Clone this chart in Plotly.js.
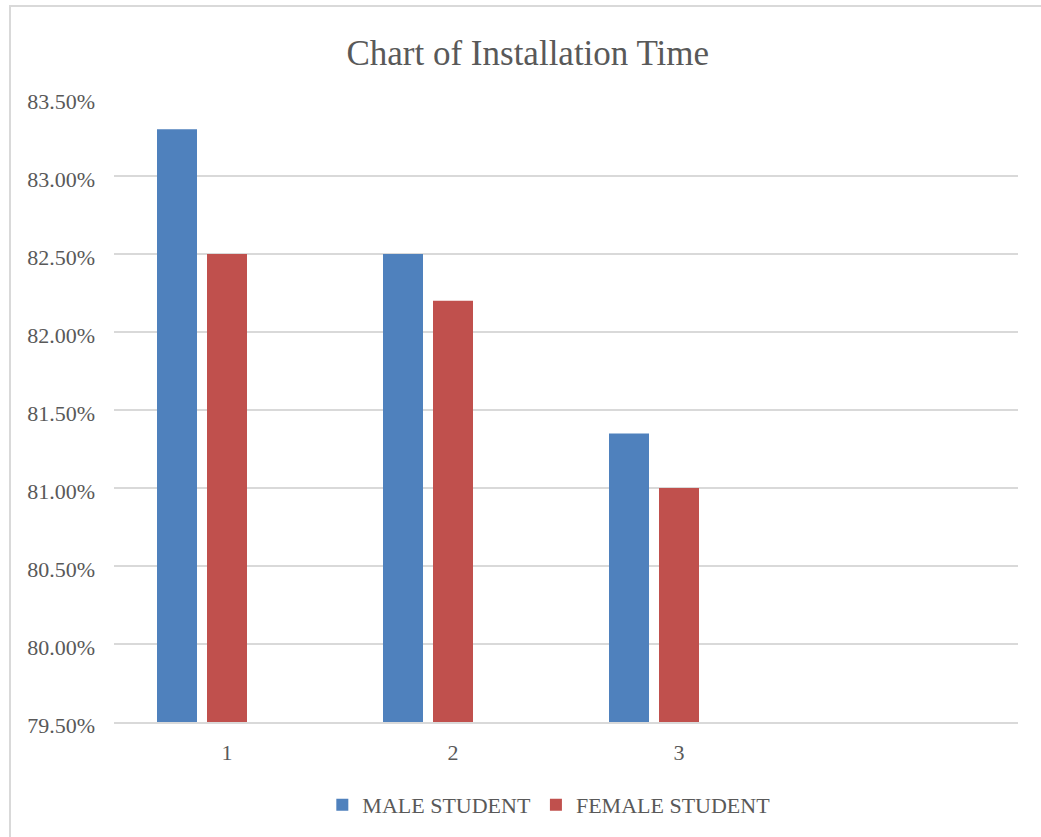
<!DOCTYPE html>
<html>
<head>
<meta charset="utf-8">
<script src="https://cdn.plot.ly/plotly-3.0.1.min.js"></script>
<style>
  html, body { margin: 0; padding: 0; background: #ffffff; overflow: hidden; }
  #chart { position: absolute; left: 0; top: 0; width: 1041px; height: 837px; }
  #frame { position: absolute; left: 9px; top: 5px; width: 1200px; height: 1000px;
           border: 2px solid #d9d9d9; pointer-events: none; box-sizing: border-box; }
</style>
</head>
<body>
<div id="chart"></div>
<div id="frame"></div>
<script>
// Data
const categories = [1, 2, 3];
const categoryLabels = ["1", "2", "3"];
const maleStudent = [83.30, 82.50, 81.35];
const femaleStudent = [82.50, 82.20, 81.00];
const seriesNames = ["MALE STUDENT", "FEMALE STUDENT"];
const yTicks = [79.5, 80.0, 80.5, 81.0, 81.5, 82.0, 82.5, 83.0, 83.5];
const yTickLabels = yTicks.map(v => v.toFixed(2) + "%");

const font = "Liberation Serif, Times New Roman, serif";
const textColor = "#595959";
const barWidth = 40 / 226;

const traces = [
  {
    type: "bar", name: seriesNames[0], x: categories, y: maleStudent,
    width: barWidth, offset: -70 / 226,
    marker: { color: "#4f81bd" }, hoverinfo: "x+y"
  },
  {
    type: "bar", name: seriesNames[1], x: categories, y: femaleStudent,
    width: barWidth, offset: -20 / 226,
    marker: { color: "#c0504d" }, hoverinfo: "x+y"
  }
];

const layout = {
  width: 1041, height: 837,
  paper_bgcolor: "#ffffff", plot_bgcolor: "#ffffff",
  margin: { l: 114, r: 23, t: 98, b: 114 },
  barmode: "overlay",
  font: { family: font, color: textColor, size: 22 },
  title: {
    text: "Chart of Installation Time",
    font: { family: font, size: 35, color: textColor },
    xref: "container", x: 0.507, xanchor: "center",
    yref: "container", y: 1 - 53 / 837, yanchor: "middle"
  },
  xaxis: {
    range: [0.5, 4.5],
    tickmode: "array", tickvals: categories, ticktext: categoryLabels,
    showgrid: false, zeroline: false,
    showline: true, linecolor: "#d9d9d9", linewidth: 2,
    ticks: "", ticklabelstandoff: 10,
    tickfont: { family: font, size: 22, color: textColor },
    fixedrange: true
  },
  yaxis: {
    range: [79.5, 83.5],
    tickmode: "array", tickvals: yTicks, ticktext: yTickLabels,
    showgrid: true, gridcolor: "#d9d9d9", gridwidth: 2,
    zeroline: false, showline: false, ticks: "",
    ticklabelstandoff: 18, ticklabelshift: 3,
    tickfont: { family: font, size: 22, color: textColor },
    fixedrange: true
  },
  showlegend: true,
  legend: {
    orientation: "h",
    x: 0.481, xanchor: "center",
    y: (723 - 805) / 625, yanchor: "middle",
    font: { family: font, size: 22, color: textColor },
    itemwidth: 30,
    traceorder: "normal"
  }
};

Plotly.newPlot("chart", traces, layout, { displayModeBar: false, staticPlot: true });
</script>
</body>
</html>
